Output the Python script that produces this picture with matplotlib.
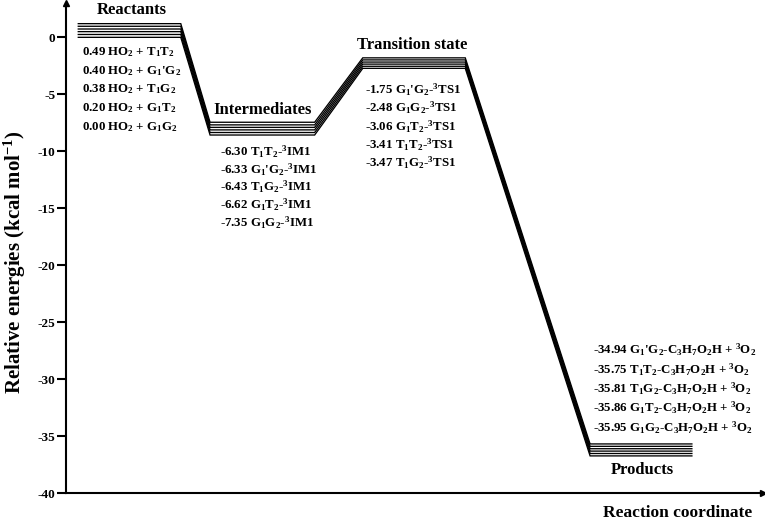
import matplotlib
matplotlib.use("Agg")
import matplotlib.pyplot as plt

plt.rcParams['font.family'] = ['Liberation Serif', 'DejaVu Serif']
plt.rcParams['font.weight'] = 'bold'
plt.rcParams['mathtext.fontset'] = 'custom'
plt.rcParams['mathtext.rm'] = 'Liberation Serif:bold'
plt.rcParams['mathtext.it'] = 'Liberation Serif:bold'
plt.rcParams['mathtext.bf'] = 'Liberation Serif:bold'

# ---- data ----
states = ["Reactants", "Intermediates", "Transition state", "Products"]
# drawn level heights (kcal/mol), one list per state
reactant_levels = [1.20, 0.97, 0.73, 0.50, 0.25, 0.00]
intermediate_levels = [-7.45, -7.68, -7.90, -8.12, -8.35, -8.57]
ts_levels = [-1.80, -1.98, -2.17, -2.35, -2.54, -2.72]
product_levels = [-35.67, -35.88, -36.09, -36.30, -36.51, -36.72]

reactant_labels = [r"0.49 HO$_2$ + T$_1$T$_2$", r"0.40 HO$_2$ + G$_1$'G$_2$",
                   r"0.38 HO$_2$ + T$_1$G$_2$", r"0.20 HO$_2$ + G$_1$T$_2$",
                   r"0.00 HO$_2$ + G$_1$G$_2$"]
intermediate_labels = [r"-6.30 T$_1$T$_2$-$^3$IM1", r"-6.33 G$_1$'G$_2$-$^3$IM1",
                       r"-6.43 T$_1$G$_2$-$^3$IM1", r"-6.62 G$_1$T$_2$-$^3$IM1",
                       r"-7.35 G$_1$G$_2$-$^3$IM1"]
ts_labels = [r"-1.75 G$_1$'G$_2$-$^3$TS1", r"-2.48 G$_1$G$_2$-$^3$TS1",
             r"-3.06 G$_1$T$_2$-$^3$TS1", r"-3.41 T$_1$T$_2$-$^3$TS1",
             r"-3.47 T$_1$G$_2$-$^3$TS1"]
product_labels = [r"-34.94 G$_1$'G$_2$-C$_3$H$_7$O$_2$H + $^3$O$_2$",
                  r"-35.75 T$_1$T$_2$-C$_3$H$_7$O$_2$H + $^3$O$_2$",
                  r"-35.81 T$_1$G$_2$-C$_3$H$_7$O$_2$H + $^3$O$_2$",
                  r"-35.86 G$_1$T$_2$-C$_3$H$_7$O$_2$H + $^3$O$_2$",
                  r"-35.95 G$_1$G$_2$-C$_3$H$_7$O$_2$H + $^3$O$_2$"]
yticks = [0, -5, -10, -15, -20, -25, -30, -35, -40]

# ---- layout (reaction coordinate 0..100) ----
plateaus = [(1.8, 16.5), (20.7, 35.7), (42.6, 57.3), (75.2, 89.8)]

fig = plt.figure(figsize=(7.65, 5.22), dpi=100)
ax = fig.add_axes([0.0859, 0.055, 0.9115, 0.939])
ax.set_xlim(0, 100)
ax.set_ylim(-40, 3)

all_levels = [reactant_levels, intermediate_levels, ts_levels, product_levels]
for i in range(len(reactant_levels)):
    xs, ys = [], []
    for (x0, x1), lv in zip(plateaus, all_levels):
        xs += [x0, x1]
        ys += [lv[i], lv[i]]
    ax.plot(xs, ys, color='black', lw=0.95, solid_joinstyle='miter')

def put_labels(labels, x, y_px_list):
    for lab, ypx in zip(labels, y_px_list):
        fig.text(x / 765, 1 - ypx / 522, lab, fontsize=9.3, ha='left', va='center')

put_labels(reactant_labels, 82, [51.7, 70.7, 89.3, 108.3, 126.7])
put_labels(intermediate_labels, 220, [151.7, 169.5, 187, 205, 222.7])
put_labels(ts_labels, 365, [90, 108, 126.7, 145, 163.3])
put_labels(product_labels, 593, [350, 370, 389, 408, 428])

title_pos = [(132, 10), (263, 110), (412, 45), (642, 470)]
for name, (xp, yp) in zip(states, title_pos):
    fig.text(xp / 765, 1 - yp / 522, name, fontsize=12, ha='center', va='center')

fig.text(678 / 765, 1 - 513 / 522, "Reaction coordinate", fontsize=12.5, ha='center', va='center')
fig.text(15 / 765, 1 - 262 / 522, r"Relative energies (kcal mol$^{-1}$)", fontsize=15,
         ha='center', va='center', rotation=90)

# axes styling
for s in ['top', 'right']:
    ax.spines[s].set_visible(False)
ax.spines['left'].set_linewidth(1.5)
ax.spines['bottom'].set_linewidth(1.5)
ax.set_xticks([])
ax.set_yticks(yticks)
ax.set_yticklabels([str(t) for t in yticks], fontsize=9.5, fontweight='bold')
ax.tick_params(axis='y', direction='out', length=6.5, width=1.5, pad=1)
ax.plot(0, 1, marker='^', color='black', markersize=5, transform=ax.transAxes, clip_on=False)
ax.plot(1, 0, marker='>', color='black', markersize=5, transform=ax.transAxes, clip_on=False)

fig.savefig("out.png", dpi=100)
